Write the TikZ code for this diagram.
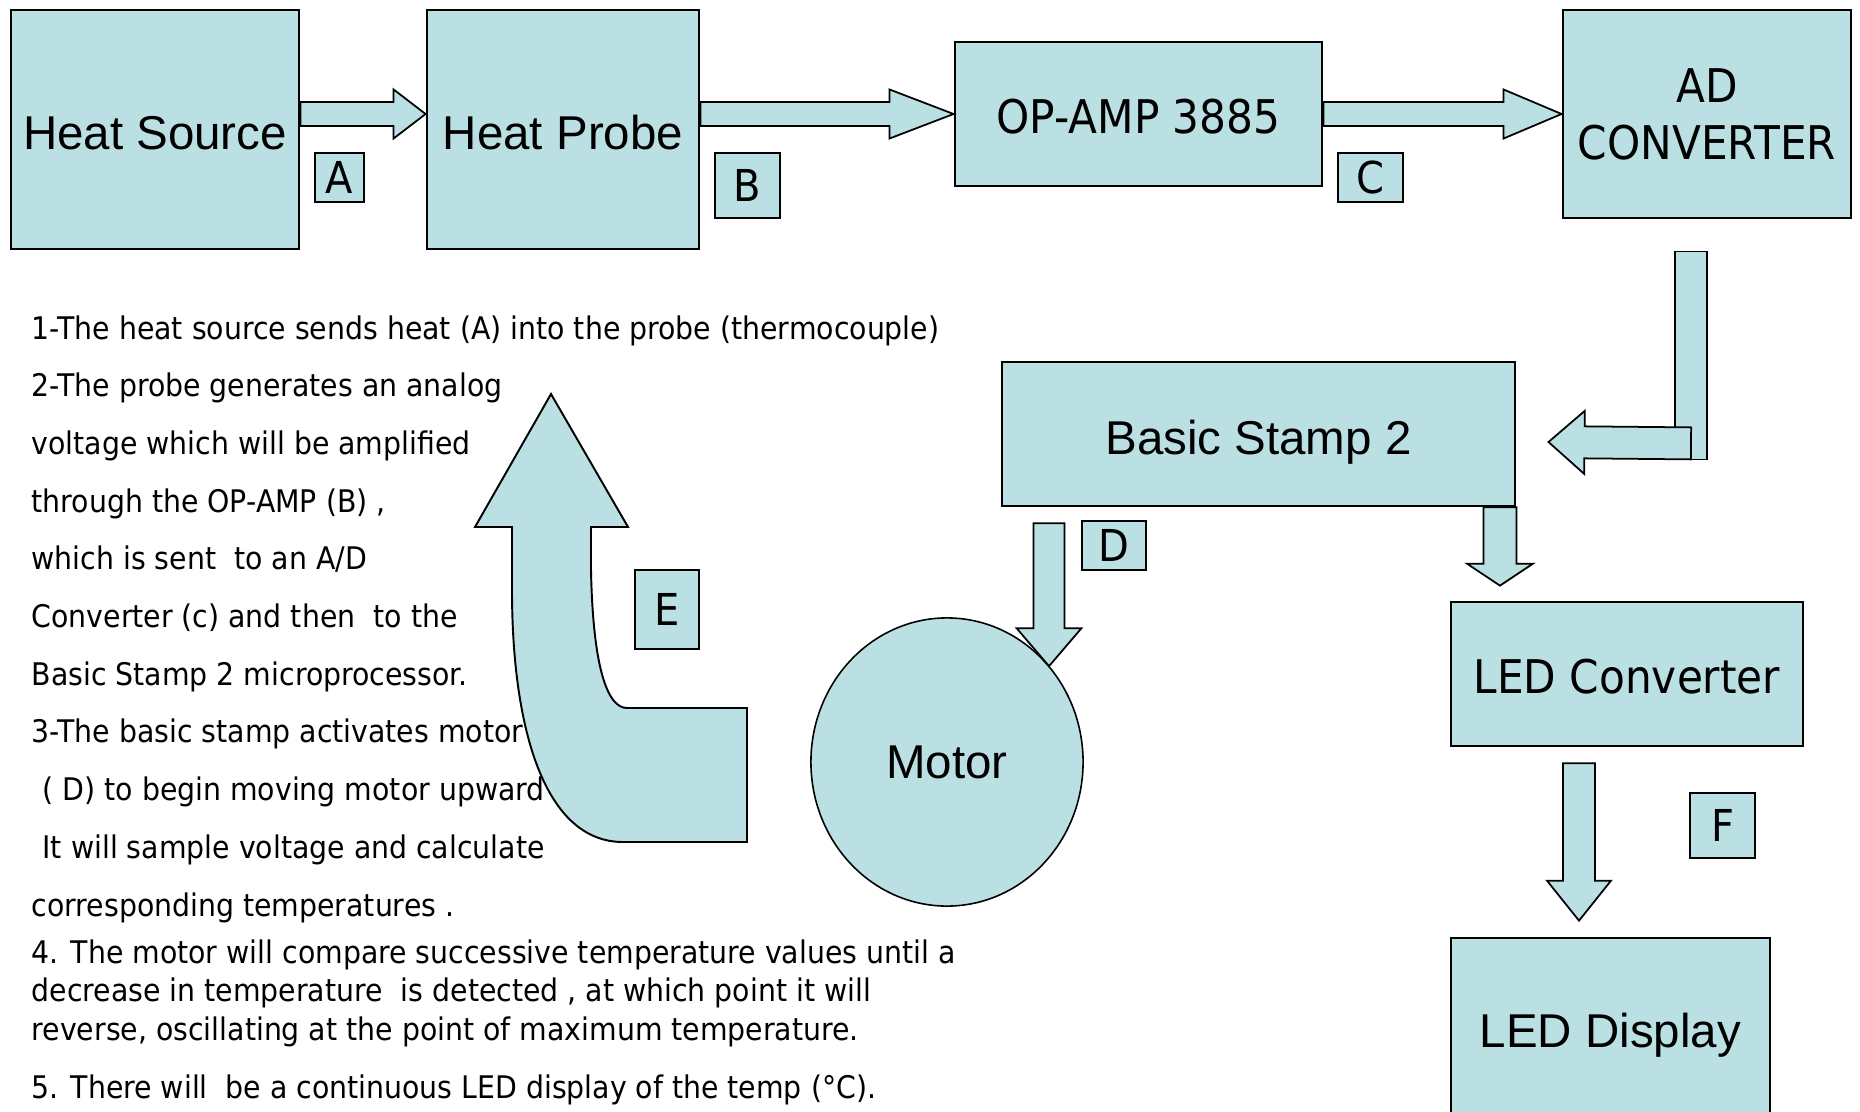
\documentclass[tikz,border=0pt]{standalone}
\usepackage{fontspec}
\setmainfont{Liberation Sans}
\newfontfamily\tahoma[FakeStretch=0.91]{DejaVu Sans}
\usetikzlibrary{calc,shapes.geometric}
\definecolor{boxF}{HTML}{BBE0E3}
\tikzset{
  blk/.style={draw, fill=boxF, line width=0.75pt, inner sep=0pt, align=center},
  arial/.style={font=\fontsize{13.5}{16}\selectfont, text height=11.4pt, text depth=0pt},
  tah/.style={font=\tahoma\fontsize{13.2}{16.2}\selectfont, text height=11.2pt, text depth=0pt},
  tag/.style={draw, fill=boxF, line width=0.6pt, inner sep=0pt, font=\tahoma\fontsize{12.5}{15}\selectfont},
  barr/.style={draw, fill=boxF, line width=0.5pt, line join=miter},
  note/.style={anchor=base west, inner sep=0pt, font=\tahoma\fontsize{8.86}{10.6}\selectfont},
}
% block arrow: tail, tip, half shaft, half head, head length (all in px)
\newcommand\blockarr[5]{%
  \coordinate (bh) at ($(#2)!{#5*0.01cm}!(#1)$);
  \draw[barr] ($(#1)!{#3*0.01cm}!90:(#2)$) -- ($(bh)!{#3*0.01cm}!90:(#2)$)
    -- ($(bh)!{#4*0.01cm}!90:(#2)$) -- (#2) -- ($(bh)!{#4*0.01cm}!-90:(#2)$)
    -- ($(bh)!{#3*0.01cm}!-90:(#2)$) -- ($(#1)!{#3*0.01cm}!-90:(#2)$) -- cycle;}

\begin{document}
\begin{tikzpicture}[x=0.01cm, y=-0.01cm]
\useasboundingbox (0,0) rectangle (1860,1112);
\fill[white] (0,0) rectangle (1860,1112);
% top row
\node[blk, arial, minimum width=2.88cm, minimum height=2.39cm] (hs) at (155,129.5) {Heat Source};
\node[blk, arial, minimum width=2.72cm, minimum height=2.39cm] (hp) at (563,129.5) {Heat Probe};
\node[blk, tah, minimum width=3.67cm, minimum height=1.44cm] (op) at (1138.5,114) {OP-AMP 3885};
\node[blk, font=\tahoma\fontsize{13.2}{16.2}\selectfont, minimum width=2.88cm, minimum height=2.08cm] (ad) at (1707,114) {AD\\CONVERTER};
% right column
\node[blk, arial, minimum width=5.13cm, minimum height=1.44cm] (bs) at (1258.5,434) {Basic Stamp 2};
\node[blk, tah, minimum width=3.52cm, minimum height=1.44cm] (lc) at (1627,674) {LED Converter};
\node[blk, arial, minimum width=3.19cm, minimum height=1.78cm] (ld) at (1610.5,1027) {LED Display};
\node[blk, font=\fontsize{13.5}{16}\selectfont, ellipse, line width=0.45pt, minimum width=2.72cm, minimum height=2.88cm] (mo) at (947,762) {Motor};

% letters
\node[tag, minimum width=0.49cm, minimum height=0.49cm] (ta) at (339.5,177.5) {A};
\node[tag, minimum width=0.65cm, minimum height=0.65cm] (tb) at (747.5,185.5) {B};
\node[tag, minimum width=0.65cm, minimum height=0.49cm] (tc) at (1370.5,177.5) {C};
\node[tag, minimum width=0.64cm, minimum height=0.49cm] (td) at (1114,545.5) {D};
\node[tag, minimum width=0.64cm, minimum height=0.79cm] (te) at (667,609.5) {E};
\node[tag, minimum width=0.65cm, minimum height=0.65cm] (tf) at (1722.5,825.5) {F};

% arrows along the top
\coordinate (a0) at ($(hs.east)+(0,-15.5)$);
\coordinate (a1) at (hp.west |- a0);
\blockarr{a0}{a1}{12}{24.5}{32}
\coordinate (b0) at (hp.east |- op.west);
\blockarr{b0}{op.west}{12}{24.5}{64}
\blockarr{op.east}{ad.west}{12}{24.5}{58}
% AD converter down and into the stamp
\draw[barr] ($(ad.south)+(-32,32)$) rectangle ($(ad.south)+(0,240)$);
\coordinate (k0) at ($(ad.south)+(-16,224)$);
\coordinate (k1) at ($(bs.east)+(32,8)$);
\blockarr{k0}{k1}{16}{31.5}{36}
% stamp to LED converter, motor
\coordinate (s0) at ($(bs.south east)+(-16.5,0)$);
\coordinate (s1) at ($(lc.north -| s0)+(0,-15)$);
\blockarr{s0}{s1}{16.5}{33}{22}
\coordinate (d0) at ($(bs.south west)+(48.5,16)$);
\coordinate (d1) at ($(mo.north -| d0)+(0,49)$);
\blockarr{d0}{d1}{15.5}{32.5}{38}
\coordinate (f0) at ($(lc.south)+(-48,16)$);
\coordinate (f1) at ($(ld.north -| f0)+(0,-16)$);
\blockarr{f0}{f1}{16}{32}{40}

% bent arrow E
\draw[barr, line width=0.55pt] (551,394) -- (628,527) -- (591,527) -- (591,570)
  .. controls (593,670) and (608,708) .. (627,708) -- (747,708) -- (747,842) -- (623,842)
  .. controls (545,842) and (512,730) .. (512,590) -- (512,527) -- (475,527) -- cycle;

% notes
\foreach \ln [count=\i from 0] in {
  {1-The heat source sends heat (A) into the probe (thermocouple)},
  {2-The probe generates an analog},
  {voltage which will be amplified},
  {through the OP-AMP (B) ,},
  {which is sent~ to an A/D},
  {Converter (c) and then~ to the},
  {Basic Stamp 2 microprocessor.},
  {3-The basic stamp activates motor},
  {\hspace*{0.35em}( D) to begin moving motor upward},
  {\hspace*{0.35em}It will sample voltage and calculate},
  {corresponding temperatures .}}
  \node[note] (n\i) at (31,339+57.7*\i) {\ln};
\foreach \ln [count=\i from 0] in {
  {4. The motor will compare successive temperature values until a},
  {decrease in temperature~ is detected , at which point it will},
  {reverse, oscillating at the point of maximum temperature.}}
  \node[note] (m\i) at (31,963+38.5*\i) {\ln};
\node[note] (last) at (31,1098) {5. There will~ be a continuous LED display of the temp (°C).};
\end{tikzpicture}
\end{document}
